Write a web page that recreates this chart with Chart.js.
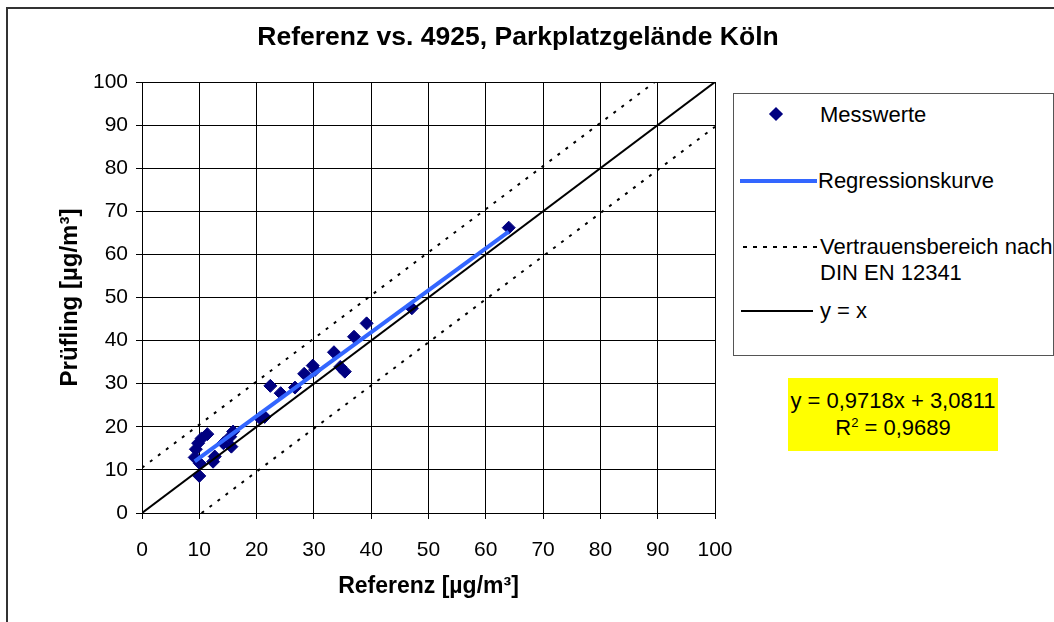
<!DOCTYPE html>
<html>
<head>
<meta charset="utf-8">
<script src="https://cdn.jsdelivr.net/npm/chart.js@4"></script>
<style>
  html, body { margin: 0; padding: 0; background: #fff; overflow: hidden; }
  body { width: 1054px; height: 622px; position: relative; font-family: "Liberation Sans", Arial, sans-serif; color: #000; }
  #frame { position: absolute; left: 6px; top: 7px; width: 1100px; height: 700px; border: 2px solid #333; }
  #chart { position: absolute; left: 0; top: 0; }
  .abs { position: absolute; white-space: nowrap; }
  #title { left: 0; width: 1036px; top: 20px; text-align: center; font-weight: bold; font-size: 26.5px; line-height: 32px; }
  #legend { left: 733px; top: 93px; width: 319px; height: 261px; border: 1px solid #555; background: #fff; }
  .ltxt { font-size: 22px; line-height: 26px; }
  .dots { height: 2px; background: repeating-linear-gradient(to right, #000 0 4px, transparent 4px 10px); }
  #eq { left: 788px; top: 378px; width: 210px; height: 73px; background: #ffff00; text-align: center; font-size: 22px; line-height: 27px; padding-top: 9px; box-sizing: border-box; }
</style>
</head>
<body>
<div id="frame"></div>
<canvas id="chart" width="1054" height="622"></canvas>
<div id="title" class="abs">Referenz vs. 4925, Parkplatzgelände Köln</div>
<div id="legend" class="abs">
  <div class="abs" style="left:37px;top:15px;width:10px;height:10px;background:#000080;transform:rotate(45deg);"></div>
  <div class="abs ltxt" style="left:86px;top:8px;">Messwerte</div>
  <div class="abs" style="left:6px;top:85px;width:77px;height:0;border-top:4px solid #3366ff;"></div>
  <div class="abs ltxt" style="left:84px;top:74px;">Regressionskurve</div>
  <div class="abs dots" style="left:9px;top:152px;width:76px;"></div>
  <div class="abs ltxt" style="left:86px;top:140px;">Vertrauensbereich nach<br>DIN EN 12341</div>
  <div class="abs" style="left:7px;top:216px;width:72px;height:0;border-top:2px solid #000;"></div>
  <div class="abs ltxt" style="left:86px;top:204px;">y = x</div>
</div>
<div id="eq" class="abs">y = 0,9718x + 3,0811<br>R<sup style="font-size:13px;line-height:0;">2</sup> = 0,9689</div>
<script>
// Messwerte: Referenz (x) gegen Prüfling (y), µg/m³
const referenz = [9.2, 9.4, 9.8, 10.0, 10.1, 10.4, 11.4, 12.4, 12.7, 14.2, 15.4, 15.6, 15.9,
                  20.6, 21.4, 22.4, 24.2, 26.7, 28.3, 29.8, 30.2, 33.5, 34.6, 35.4, 37.0, 39.2, 47.1, 64.0];
const pruefling = [12.9, 14.8, 16.2, 8.6, 11.5, 17.3, 18.3, 11.9, 13.1, 16.2, 17.7, 15.4, 18.9,
                   22.0, 22.3, 29.5, 27.8, 29.1, 32.3, 34.2, 33.2, 37.3, 33.9, 32.8, 40.9, 44.0, 47.5, 66.2];

// Regressionskurve y = 0,9718x + 3,0811 (Endpunkte)
const regX = [9.2, 64.0];
const regY = [12.0, 65.3];

// Vertrauensbereich nach DIN EN 12341
const obenX = [0, 89.5];
const obenY = [10.5, 100];
const untenX = [10.4, 100];
const untenY = [0, 89.6];

// Winkelhalbierende
const diagX = [0, 100];
const diagY = [0, 100];

const axisTicks = [0, 10, 20, 30, 40, 50, 60, 70, 80, 90, 100];

const pts = (xs, ys) => xs.map((x, i) => ({ x: x, y: ys[i] }));

Chart.defaults.font.family = '"Liberation Sans", Arial, sans-serif';
Chart.defaults.color = '#000';

new Chart(document.getElementById('chart'), {
    type: 'scatter',
    data: {
        datasets: [
            {
                label: 'Messwerte',
                data: pts(referenz, pruefling),
                pointStyle: 'rectRot',
                pointRadius: 6.5,
                backgroundColor: '#000080',
                borderColor: '#000080',
                borderWidth: 1,
                order: 5
            },
            {
                label: 'Regressionskurve',
                type: 'line',
                data: pts(regX, regY),
                borderColor: '#3366ff',
                borderWidth: 4,
                pointRadius: 0,
                order: 1
            },
            {
                label: 'Vertrauensbereich nach DIN EN 12341',
                type: 'line',
                data: pts(obenX, obenY),
                borderColor: '#000',
                borderWidth: 2,
                borderDash: [3, 7],
                pointRadius: 0,
                order: 2
            },
            {
                label: 'Vertrauensbereich unten',
                type: 'line',
                data: pts(untenX, untenY),
                borderColor: '#000',
                borderWidth: 2,
                borderDash: [3, 7],
                pointRadius: 0,
                order: 2
            },
            {
                label: 'y = x',
                type: 'line',
                data: pts(diagX, diagY),
                borderColor: '#000',
                borderWidth: 2,
                pointRadius: 0,
                order: 2
            }
        ]
    },
    options: {
        responsive: false,
        animation: false,
        events: [],
        layout: { padding: { left: 52, top: 82, right: 339, bottom: 18 } },
        plugins: { legend: { display: false }, tooltip: { enabled: false }, title: { display: false } },
        scales: {
            x: {
                type: 'linear', min: 0, max: 100,
                afterBuildTicks: s => { s.ticks = axisTicks.map(v => ({ value: v })); },
                afterFit: s => { s.height = 91; },
                grid: { color: '#000', lineWidth: 1, tickLength: 6 },
                border: { color: '#000', width: 1 },
                ticks: { font: { size: 21 }, padding: 19, maxRotation: 0 },
                title: { display: true, text: 'Referenz [µg/m³]', font: { size: 23, weight: 'bold' } }
            },
            y: {
                type: 'linear', min: 0, max: 100,
                afterBuildTicks: s => { s.ticks = axisTicks.map(v => ({ value: v })); },
                afterFit: s => { s.width = 90; },
                grid: { color: '#000', lineWidth: 1, tickLength: 6 },
                border: { color: '#000', width: 1 },
                ticks: { font: { size: 21 }, padding: 8 },
                title: { display: true, text: 'Prüfling [µg/m³]', font: { size: 24, weight: 'bold' } }
            }
        }
    }
});
</script>
</body>
</html>
